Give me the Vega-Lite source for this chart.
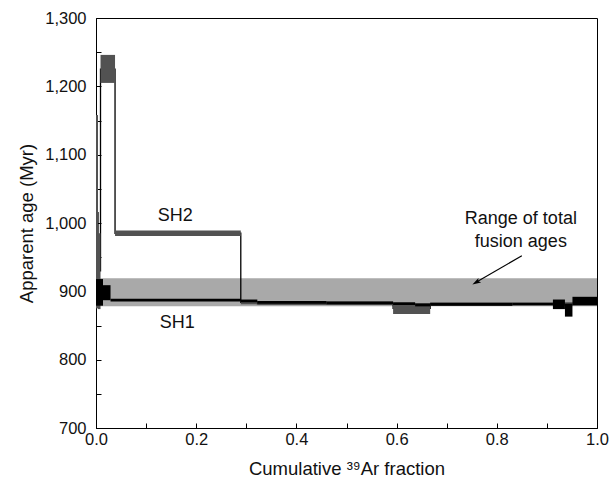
{
  "$schema": "https://vega.github.io/schema/vega-lite/v6.json",
  "width": 501,
  "height": 410,
  "autosize": {"type": "none"},
  "padding": {"left": 96, "top": 18, "right": 13, "bottom": 58},
  "background": "#ffffff",
  "config": {
    "view": {"stroke": "#000000", "strokeWidth": 1},
    "axis": {
      "labelFont": "Liberation Sans", "titleFont": "Liberation Sans",
      "labelColor": "#111111", "titleColor": "#111111",
      "domainColor": "#000000", "tickColor": "#000000",
      "titleFontWeight": "normal", "labelFontSize": 16.5, "titleFontSize": 18.5,
      "grid": false, "labelOverlap": false, "labelFlush": false
    }
  },
  "datasets": {
    "band": [{"x": 0, "x2": 1, "y": 878, "y2": 919}],
    "sh2": [
      {"x": 0, "x2": 0.004, "y": 875, "y2": 1158},
      {"x": 0.004, "x2": 0.009, "y": 874, "y2": 985},
      {"x": 0.009, "x2": 0.038, "y": 1205, "y2": 1246},
      {"x": 0.038, "x2": 0.289, "y": 981, "y2": 989},
      {"x": 0.289, "x2": 0.322, "y": 881, "y2": 886},
      {"x": 0.322, "x2": 0.593, "y": 880, "y2": 885},
      {"x": 0.593, "x2": 0.667, "y": 867, "y2": 883},
      {"x": 0.667, "x2": 1.0, "y": 879, "y2": 884}
    ],
    "sh2line": [
      {"x": 0, "y": 1015},
      {"x": 0.004, "y": 930},
      {"x": 0.009, "y": 1225},
      {"x": 0.038, "y": 985},
      {"x": 0.289, "y": 884},
      {"x": 0.322, "y": 882},
      {"x": 0.593, "y": 875},
      {"x": 0.667, "y": 882},
      {"x": 1.0, "y": 882}
    ],
    "sh1": [
      {"x": 0, "x2": 0.014, "y": 879, "y2": 918},
      {"x": 0.014, "x2": 0.029, "y": 887, "y2": 909},
      {"x": 0.029, "x2": 0.289, "y": 885, "y2": 889},
      {"x": 0.289, "x2": 0.322, "y": 884, "y2": 888},
      {"x": 0.322, "x2": 0.46, "y": 882, "y2": 886},
      {"x": 0.46, "x2": 0.593, "y": 881, "y2": 885},
      {"x": 0.593, "x2": 0.637, "y": 880, "y2": 884},
      {"x": 0.637, "x2": 0.667, "y": 878, "y2": 882},
      {"x": 0.667, "x2": 0.831, "y": 879, "y2": 883},
      {"x": 0.831, "x2": 0.912, "y": 880, "y2": 883},
      {"x": 0.912, "x2": 0.936, "y": 874, "y2": 888},
      {"x": 0.936, "x2": 0.951, "y": 863, "y2": 882},
      {"x": 0.951, "x2": 1.0, "y": 880, "y2": 892}
    ],
    "arrow": [
      {"x": 0.850, "y": 952},
      {"x": 0.7595, "y": 913.6}
    ],
    "head": [{"x": 0.7595, "y": 913.6}],
    "labels": [
      {"x": 0.158, "y": 1010, "label": "SH2"},
      {"x": 0.162, "y": 854, "label": "SH1"},
      {"x": 0.848, "y": 1006, "label": "Range of total"},
      {"x": 0.848, "y": 972, "label": "fusion ages"}
    ]
  },
  "encoding": {
    "x": {
      "field": "x", "type": "quantitative",
      "scale": {"domain": [0, 1], "nice": false, "zero": false},
      "axis": {
        "title": "Cumulative ³⁹Ar fraction",
        "values": [0, 0.1, 0.2, 0.3, 0.4, 0.5, 0.6, 0.7, 0.8, 0.9, 1.0],
        "labelExpr": "round(datum.value*10) % 2 === 0 ? format(datum.value, '.1f') : ''",
        "tickSize": -5, "labelPadding": 8, "titlePadding": 12
      }
    },
    "y": {
      "field": "y", "type": "quantitative",
      "scale": {"domain": [700, 1300], "nice": false, "zero": false},
      "axis": {
        "title": "Apparent age (Myr)",
        "values": [700, 750, 800, 850, 900, 950, 1000, 1050, 1100, 1150, 1200, 1250, 1300],
        "labelExpr": "datum.value % 100 === 0 ? format(datum.value, ',') : ''",
        "tickSize": -5, "labelPadding": 15, "titlePadding": 8
      }
    }
  },
  "layer": [
    {
      "data": {"name": "band"},
      "mark": {"type": "rect", "fill": "#a9a9a9"},
      "encoding": {"x2": {"field": "x2"}, "y2": {"field": "y2"}}
    },
    {
      "data": {"name": "sh2line"},
      "mark": {"type": "line", "interpolate": "step-after", "color": "#000000", "strokeWidth": 1.3},
      "encoding": {}
    },
    {
      "data": {"name": "sh2"},
      "mark": {"type": "rect", "fill": "#525252"},
      "encoding": {"x2": {"field": "x2"}, "y2": {"field": "y2"}}
    },
    {
      "data": {"name": "sh1"},
      "mark": {"type": "rect", "fill": "#000000"},
      "encoding": {"x2": {"field": "x2"}, "y2": {"field": "y2"}}
    },
    {
      "data": {"name": "arrow"},
      "mark": {"type": "line", "color": "#000000", "strokeWidth": 1.2},
      "encoding": {}
    },
    {
      "data": {"name": "head"},
      "mark": {"type": "point", "shape": "M0,-1L0.55,0.8L0,0.4L-0.55,0.8Z", "filled": true, "color": "#000000", "size": 90, "opacity": 1, "angle": 240},
      "encoding": {}
    },
    {
      "data": {"name": "labels"},
      "mark": {"type": "text", "font": "Liberation Sans", "fontSize": 18, "color": "#111111", "align": "center", "baseline": "middle"},
      "encoding": {"text": {"field": "label"}}
    }
  ]
}
